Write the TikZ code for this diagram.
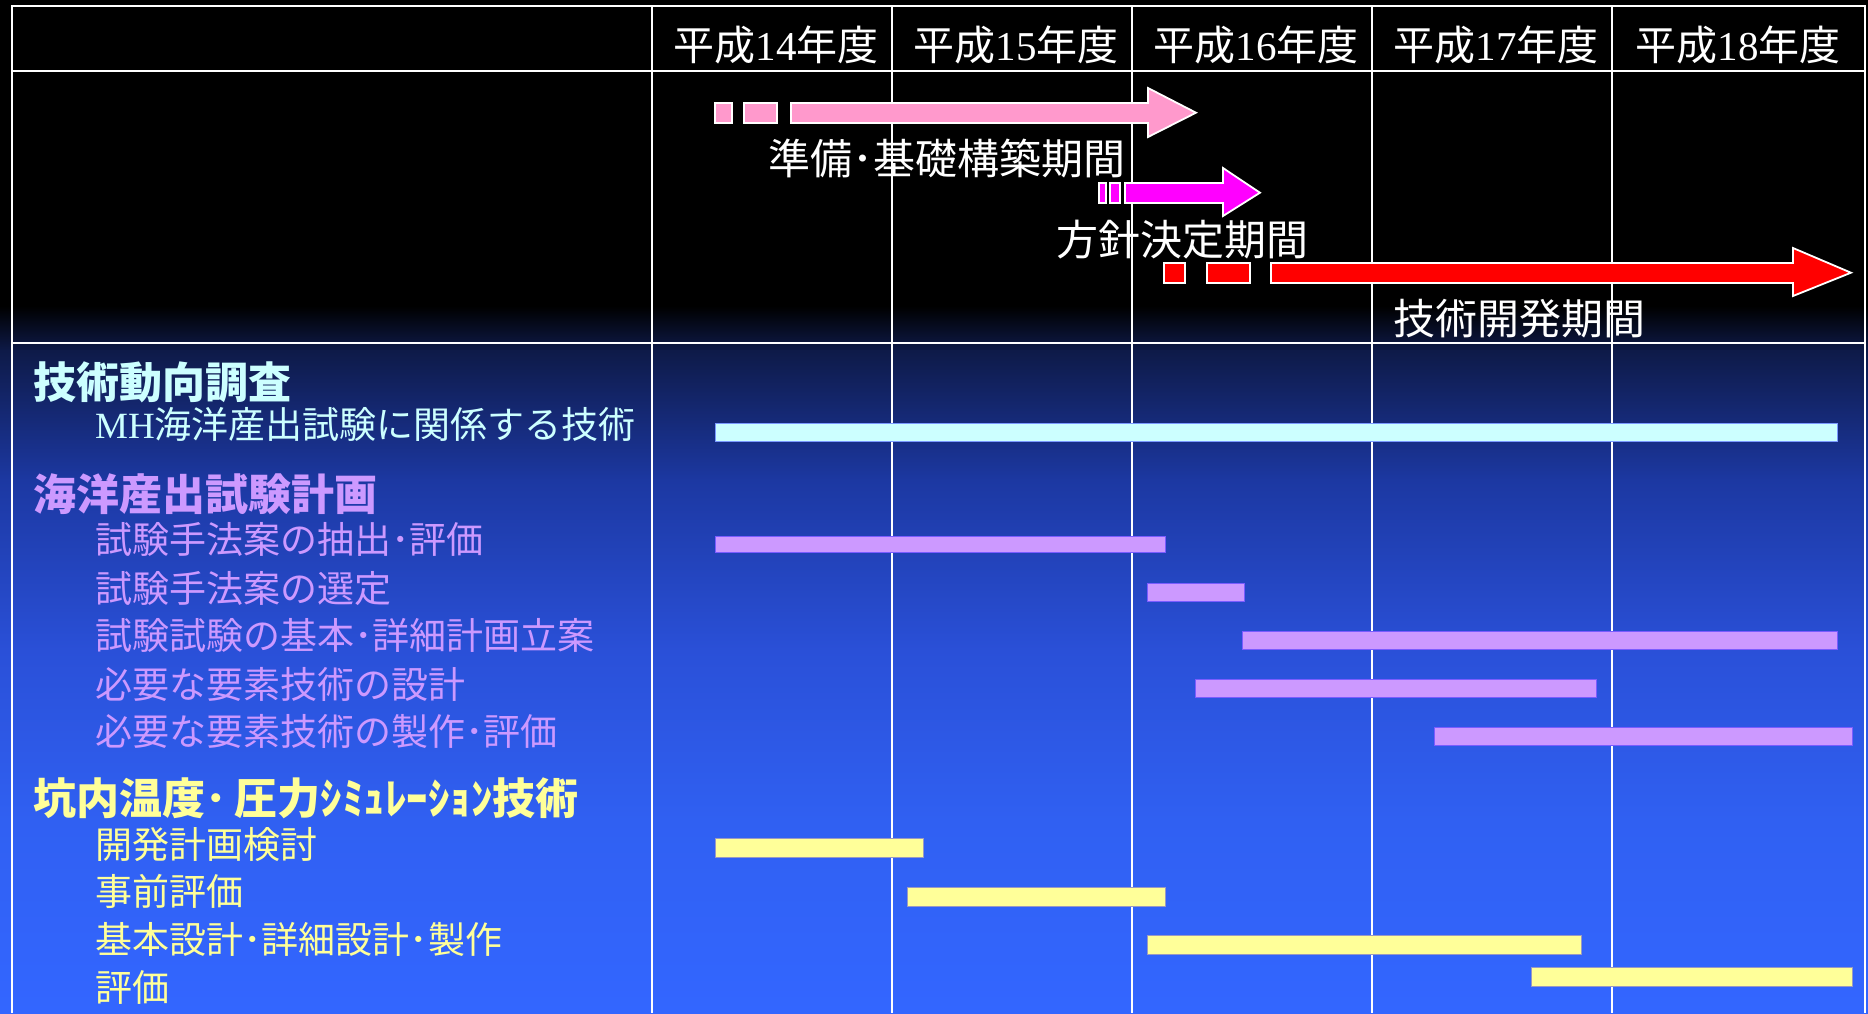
\documentclass[tikz,border=0pt]{standalone}
\usepackage{fontspec}
\newfontfamily\jp{Noto Sans CJK JP}
\newfontfamily\ser{Liberation Serif}
\definecolor{bgA}{HTML}{0E1A48}
\definecolor{bgB}{HTML}{1C38A2}
\definecolor{bgC}{HTML}{2A50D8}
\definecolor{bgD}{HTML}{3060F2}
\definecolor{bgE}{HTML}{3366FF}
\definecolor{cyanc}{HTML}{CCFFFF}
\definecolor{purc}{HTML}{CC99FF}
\definecolor{yelc}{HTML}{FFFF99}
\definecolor{pinkc}{HTML}{FF99CC}
\definecolor{magc}{HTML}{FF00FF}
\definecolor{redc}{HTML}{FF0000}
\tikzset{
  gridline/.style={white, line width=2},
  hdr/.style={text=white, inner sep=0, anchor=base, font=\jp\fontsize{41}{41}\selectfont},
  lbl/.style={text=white, inner sep=0, anchor=base west, font=\jp\fontsize{42}{42}\selectfont},
  headtxt/.style={inner sep=0, anchor=base west, font=\jp\bfseries\fontsize{43}{43}\selectfont},
  itemtxt/.style={inner sep=0, anchor=base west, font=\jp\fontsize{37}{37}\selectfont},
  cbar/.style={fill=cyanc, draw=cyanc!60!blue, line width=1},
  pbar/.style={fill=purc, draw=purc!60!blue, line width=1},
  ybar/.style={fill=yelc, draw=yelc!60!blue, line width=1},
  arr/.style={draw=white, line width=1.8, line join=miter},
}
\begin{document}
\begin{tikzpicture}[x=1pt,y=-1pt]
\useasboundingbox (0,0) rectangle (1868,1013);
% background
\fill[black] (0,0) rectangle (1868,1013);
\shade[top color=black, bottom color=bgA] (0,306) rectangle (1868,351);
\shade[top color=bgA, bottom color=bgB] (0,350) rectangle (1868,481);
\shade[top color=bgB, bottom color=bgC] (0,480) rectangle (1868,651);
\shade[top color=bgC, bottom color=bgD] (0,650) rectangle (1868,821);
\shade[top color=bgD, bottom color=bgE] (0,820) rectangle (1868,1013);
% table grid
\draw[gridline] (12,1013) -- (12,6) -- (1865,6) -- (1865,1013);
\draw[gridline] (12,71) -- (1865,71);
\draw[gridline] (12,343) -- (1865,343);
\foreach \x in {652,892,1132,1372,1612} \draw[gridline] (\x,6) -- (\x,1013);
% header
\node[hdr] (y14) at (776,60) {平成{\ser 14}年度};
\node[hdr] (y15) at (1016,60) {平成{\ser 15}年度};
\node[hdr] (y16) at (1256,60) {平成{\ser 16}年度};
\node[hdr] (y17) at (1496,60) {平成{\ser 17}年度};
\node[hdr] (y18) at (1738,60) {平成{\ser 18}年度};
% period arrows
\draw[arr, fill=pinkc] (715,103) rectangle (732,123);
\draw[arr, fill=pinkc] (744,103) rectangle (777,123);
\draw[arr, fill=pinkc] (791,103) -- (1148,103) -- (1148,88) -- (1196,112.7) -- (1148,137) -- (1148,123) -- (791,123) -- cycle;
\draw[arr, fill=magc] (1099,183) rectangle (1106,203);
\draw[arr, fill=magc] (1110,183) rectangle (1120,203);
\draw[arr, fill=magc] (1125,183) -- (1223,183) -- (1223,168) -- (1260,192.7) -- (1223,216) -- (1223,203) -- (1125,203) -- cycle;
\draw[arr, fill=redc] (1164,263) rectangle (1185,283);
\draw[arr, fill=redc] (1207,263) rectangle (1250,283);
\draw[arr, fill=redc] (1271,263) -- (1793,263) -- (1793,248) -- (1851,272.7) -- (1793,296) -- (1793,283) -- (1271,283) -- cycle;
\node[lbl] (pA) at (768,174) {準備･基礎構築期間};
\node[lbl] (pB) at (1056,255) {方針決定期間};
\node[lbl] (pC) at (1393,334) {技術開発期間};
% bars
\draw[cbar] (715,423) rectangle (1837,441);
\draw[pbar] (715,536) rectangle (1165,552);
\draw[pbar] (1147,583) rectangle (1244,601);
\draw[pbar] (1242,631) rectangle (1837,649);
\draw[pbar] (1195,679) rectangle (1596,697);
\draw[pbar] (1434,727) rectangle (1852,745);
\draw[ybar] (715,838) rectangle (923,857);
\draw[ybar] (907,887) rectangle (1165,906);
\draw[ybar] (1147,935) rectangle (1581,954);
\draw[ybar] (1531,967) rectangle (1852,986);
% left column texts
\node[headtxt, text=cyanc] (g1) at (33,398) {技術動向調査};
\node[itemtxt, text=cyanc] (g1a) at (95,438) {{\ser MH}海洋産出試験に関係する技術};
\node[headtxt, text=purc] (g2) at (33,510) {海洋産出試験計画};
\node[itemtxt, text=purc] (g2a) at (95,553) {試験手法案の抽出･評価};
\node[itemtxt, text=purc] (g2b) at (95,602) {試験手法案の選定};
\node[itemtxt, text=purc] (g2c) at (95,649) {試験試験の基本･詳細計画立案};
\node[itemtxt, text=purc] (g2d) at (95,698) {必要な要素技術の設計};
\node[itemtxt, text=purc] (g2e) at (95,745) {必要な要素技術の製作･評価};
\node[headtxt, text=yelc] (g3) at (33,814) {坑内温度･\hspace{8pt}圧力ｼﾐｭﾚｰｼｮﾝ技術};
\node[itemtxt, text=yelc] (g3a) at (95,858) {開発計画検討};
\node[itemtxt, text=yelc] (g3b) at (95,905) {事前評価};
\node[itemtxt, text=yelc] (g3c) at (95,953) {基本設計･詳細設計･製作};
\node[itemtxt, text=yelc] (g3d) at (95,1001) {評価};
\end{tikzpicture}
\end{document}
